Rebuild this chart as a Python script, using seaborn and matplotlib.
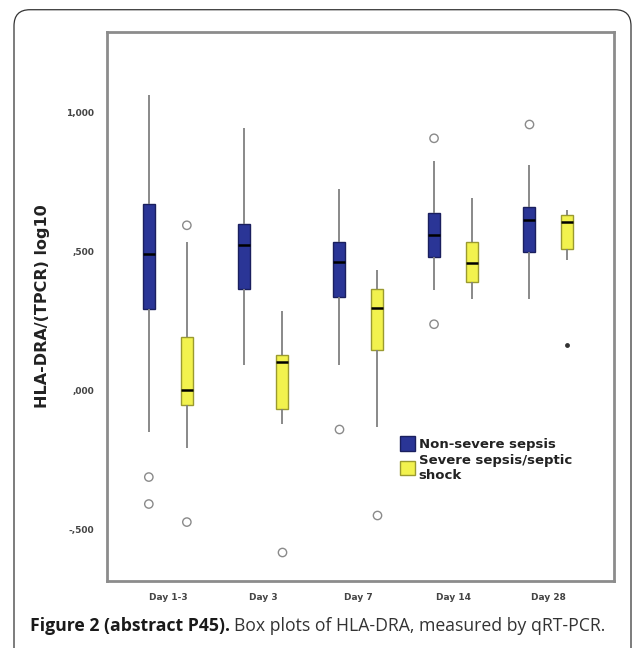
import numpy as np
import pandas as pd
import matplotlib
matplotlib.use("Agg")
import matplotlib.pyplot as plt
import seaborn as sns
from matplotlib.patches import Patch, FancyBboxPatch

# Dados (log10): [bigode inf, Q1, mediana, Q3, bigode sup]
dias = ["Day 1-3", "Day 3", "Day 7", "Day 14", "Day 28"]
grupos = ["Non-severe sepsis", "Severe sepsis/septic\nshock"]

resumo_nao_grave = [
    [-0.151, 0.291, 0.489, 0.669, 1.061],
    [0.090, 0.363, 0.522, 0.597, 0.942],
    [0.090, 0.335, 0.460, 0.532, 0.723],
    [0.360, 0.478, 0.558, 0.637, 0.824],
    [0.327, 0.496, 0.611, 0.658, 0.809],
]
resumo_grave = [
    [-0.209, -0.054, 0.000, 0.191, 0.532],
    [-0.122, -0.068, 0.100, 0.126, 0.284],
    [-0.133, 0.144, 0.295, 0.363, 0.432],
    [0.327, 0.388, 0.457, 0.532, 0.691],
    [0.468, 0.507, 0.604, 0.629, 0.647],
]

# Outliers (círculos) e extremos (asterisco)
outliers_dia = ["Day 1-3", "Day 1-3", "Day 7", "Day 14", "Day 14", "Day 28",
                "Day 1-3", "Day 1-3", "Day 3", "Day 7"]
outliers_grupo = [0, 0, 0, 0, 0, 0, 1, 1, 1, 1]
outliers_valor = [-0.313, -0.410, -0.140, 0.906, 0.237, 0.957,
                  0.593, -0.475, -0.583, -0.450]
extremos_dia = ["Day 28"]
extremos_grupo = [1]
extremos_valor = [0.162]

cor_azul = "#2a3596"
cor_amarela = "#f2f24e"

# Monta tabela longa: cinco pontos por caixa reproduzem o resumo
linhas = []
for g, resumo in enumerate([resumo_nao_grave, resumo_grave]):
    for dia, valores in zip(dias, resumo):
        for v in valores:
            linhas.append({"dia": dia, "grupo": grupos[g], "valor": v})
df = pd.DataFrame(linhas)

df_out = pd.DataFrame({"dia": outliers_dia,
                       "grupo": [grupos[i] for i in outliers_grupo],
                       "valor": outliers_valor})
df_ext = pd.DataFrame({"dia": extremos_dia,
                       "grupo": [grupos[i] for i in extremos_grupo],
                       "valor": extremos_valor})

sns.set_style("white")
plt.rcParams['font.family'] = ['DejaVu Sans']

fig = plt.figure(figsize=(6.35, 6.48), dpi=100)
ax = fig.add_axes([0.1685, 0.1034, 0.798, 0.847])

sns.boxplot(data=df, x="dia", y="valor", hue="grupo", order=dias,
            hue_order=grupos, palette=[cor_azul, cor_amarela], saturation=1,
            whis=(0, 100), width=0.8, gap=0.69, showcaps=False,
            linewidth=1.0, linecolor="#555555",
            whiskerprops=dict(color="#808080", linewidth=1.3),
            medianprops=dict(color="black", linewidth=1.8),
            legend=False, ax=ax)

# Bordas das caixas no tom de cada grupo
for p in ax.patches:
    fc = p.get_facecolor()
    if fc[2] > 0.4:
        p.set_edgecolor("#1a1f5e")
    else:
        p.set_edgecolor("#9a9a30")

sns.stripplot(data=df_out, x="dia", y="valor", hue="grupo", order=dias,
              hue_order=grupos, dodge=True, jitter=False, marker="o",
              size=6, facecolor="white", edgecolor="#8a8a8a", linewidth=1.0,
              palette=["white", "white"], legend=False, ax=ax)
sns.stripplot(data=df_ext, x="dia", y="valor", hue="grupo", order=dias,
              hue_order=grupos, dodge=True, jitter=False, marker="o",
              size=3.5, palette=["#333333", "#333333"], legend=False, ax=ax)

ax.set_xlim(-0.64, 4.69)
ax.set_ylim(-0.687, 1.288)
ax.set_yticks([-0.5, 0.0, 0.5, 1.0])
ax.set_yticklabels(["-,500", ",000", ",500", "1,000"], fontsize=6.5,
                   fontweight="bold", color="#444444")
ax.set_xticks(range(len(dias)))
ax.set_xticklabels(dias, fontsize=6.5, fontweight="bold", color="#444444")
ax.set_xlabel("")
ax.set_ylabel("HLA-DRA/(TPCR) log10", fontsize=11.5, fontweight="bold",
              color="#222222", labelpad=12)
ax.tick_params(axis="both", direction="out", length=4, width=1.2,
               color="#888888", pad=5)
for s in ax.spines.values():
    s.set_color("#8c8c8c")
    s.set_linewidth(2)

handles = [Patch(facecolor=cor_azul, edgecolor="#1a1f5e"),
           Patch(facecolor=cor_amarela, edgecolor="#9a9a30")]
leg = ax.legend(handles, grupos, loc="upper left", bbox_to_anchor=(0.555, 0.285),
                frameon=False, prop=dict(size=9.5, weight="bold"),
                handlelength=1.1, handleheight=1.3, handletextpad=0.3,
                labelspacing=0.2)
for t in leg.get_texts():
    t.set_color("#222222")

# Moldura arredondada externa
moldura = FancyBboxPatch((14 / 635, -0.05), 617 / 635, 1.035,
                         boxstyle="round,pad=0,rounding_size=0.025",
                         transform=fig.transFigure, facecolor="none",
                         edgecolor="#333333", linewidth=0.9, clip_on=False)
fig.patches.append(moldura)

# Legenda da figura com parte em negrito
fig.canvas.draw()
r = fig.canvas.get_renderer()
t1 = fig.text(30 / 635, 1 - 626 / 648, "Figure 2 (abstract P45).", fontsize=12.7,
              fontweight="bold", family="Open Sans", color="#1a1a1a", va="center")
bb = t1.get_window_extent(renderer=r)
fig.text(bb.x1 / fig.bbox.width + 0.006, 1 - 626 / 648,
         "Box plots of HLA-DRA, measured by qRT-PCR.", fontsize=12.7,
         family="Open Sans", color="#333333", va="center")

plt.savefig("out.png", dpi=100)
